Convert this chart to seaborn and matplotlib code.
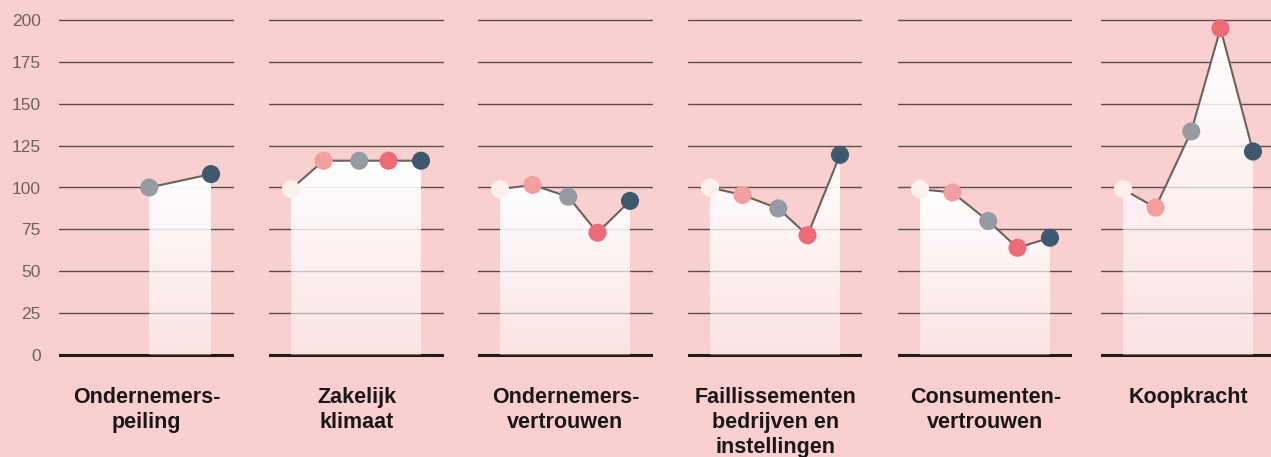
import numpy as np
import pandas as pd
import matplotlib
matplotlib.use("Agg")
import matplotlib.pyplot as plt
from matplotlib.patches import Polygon
import seaborn as sns

# ---------------- data ----------------
titles = ["Ondernemers-\npeiling", "Zakelijk\nklimaat", "Ondernemers-\nvertrouwen",
          "Faillissementen\nbedrijven en\ninstellingen", "Consumenten-\nvertrouwen", "Koopkracht"]
periods = ["p1", "p2", "p3", "p4", "p5"]
period_x = [0, 1, 2.1, 3.0, 4.0]
ondernemerspeiling = [np.nan, np.nan, 100, np.nan, 108]
zakelijk_klimaat = [99, 116, 116, 116, 116]
ondernemersvertrouwen = [99, 101.5, 94.5, 73, 92]
faillissementen = [100, 95.5, 87.5, 71.5, 119.5]
consumentenvertrouwen = [99, 97, 80, 64, 70]
koopkracht = [99, 88, 133.5, 195, 121.5]
series = [ondernemerspeiling, zakelijk_klimaat, ondernemersvertrouwen,
          faillissementen, consumentenvertrouwen, koopkracht]
yticks = [0, 25, 50, 75, 100, 125, 150, 175, 200]

# ---------------- style ----------------
BG = "#f9cfd0"
period_colors = ["#fdf0ea", "#f39e9f", "#959aa3", "#ee6a77", "#3e5870"]
palette = dict(zip(periods, period_colors))
sns.set_style("white")
plt.rcParams["font.family"] = ["Liberation Sans", "DejaVu Sans"]

W, H = 1271, 457
fig = plt.figure(figsize=(W / 100, H / 100), dpi=100, facecolor=BG)

lefts = [59, 269, 478, 688, 898, 1101]
widths = [175, 175, 175, 174, 174, 170]
px_per_x = 32.5

for i, (title, vals) in enumerate(zip(titles, series)):
    l, w = lefts[i], widths[i]
    ax = fig.add_axes([l / W, (H - 365) / H, w / W, 355 / H])
    ax.set_facecolor("none")
    for s in ax.spines.values():
        s.set_visible(False)

    df = pd.DataFrame({"x": period_x, "value": vals, "period": periods}).dropna()

    # grid lines
    for v in yticks[1:]:
        ax.axhline(v, color="#5b4d4a", lw=1.0, zorder=1)
    ax.axhline(0, color="#221a19", lw=2.2, zorder=1)

    # gradient fill under line
    xs = df["x"].to_numpy()
    ys = df["value"].to_numpy()
    ymax = ys.max()
    grad = np.linspace(0.42, 1.0, 256).reshape(-1, 1)
    img = np.ones((256, 1, 4))
    img[..., 3] = grad
    im = ax.imshow(img, extent=[xs[0], xs[-1], 0, ymax], origin="lower",
                   aspect="auto", zorder=2, interpolation="bilinear")
    verts = [(xs[0], 0)] + list(zip(xs, ys)) + [(xs[-1], 0)]
    poly = Polygon(verts, closed=True, facecolor="none", edgecolor="none")
    ax.add_patch(poly)
    im.set_clip_path(poly)

    sns.lineplot(data=df, x="x", y="value", ax=ax, color="#6d605d", lw=1.5,
                 zorder=3, estimator=None, sort=False)
    sns.scatterplot(data=df, x="x", y="value", hue="period", palette=palette,
                    hue_order=periods, s=170, linewidth=0, legend=False,
                    ax=ax, zorder=4)

    ax.set_xlim(-22 / px_per_x, (w - 22) / px_per_x)
    ax.set_ylim(-6, 206)
    ax.set_xticks([])
    ax.set_yticks(yticks)
    ax.set_xlabel("")
    ax.set_ylabel("")
    ax.tick_params(axis="y", length=0, pad=13, labelsize=12.5,
                   labelcolor="#6f625e")
    if i > 0:
        ax.set_yticklabels([])

    cx = (l + 175 / 2) / W
    fig.text(cx, 1 - 387 / H, title, ha="center", va="top", fontsize=15.5,
             fontweight="bold", color="#1b1716", linespacing=1.26)

fig.savefig("out.png", dpi=100, facecolor=BG)
